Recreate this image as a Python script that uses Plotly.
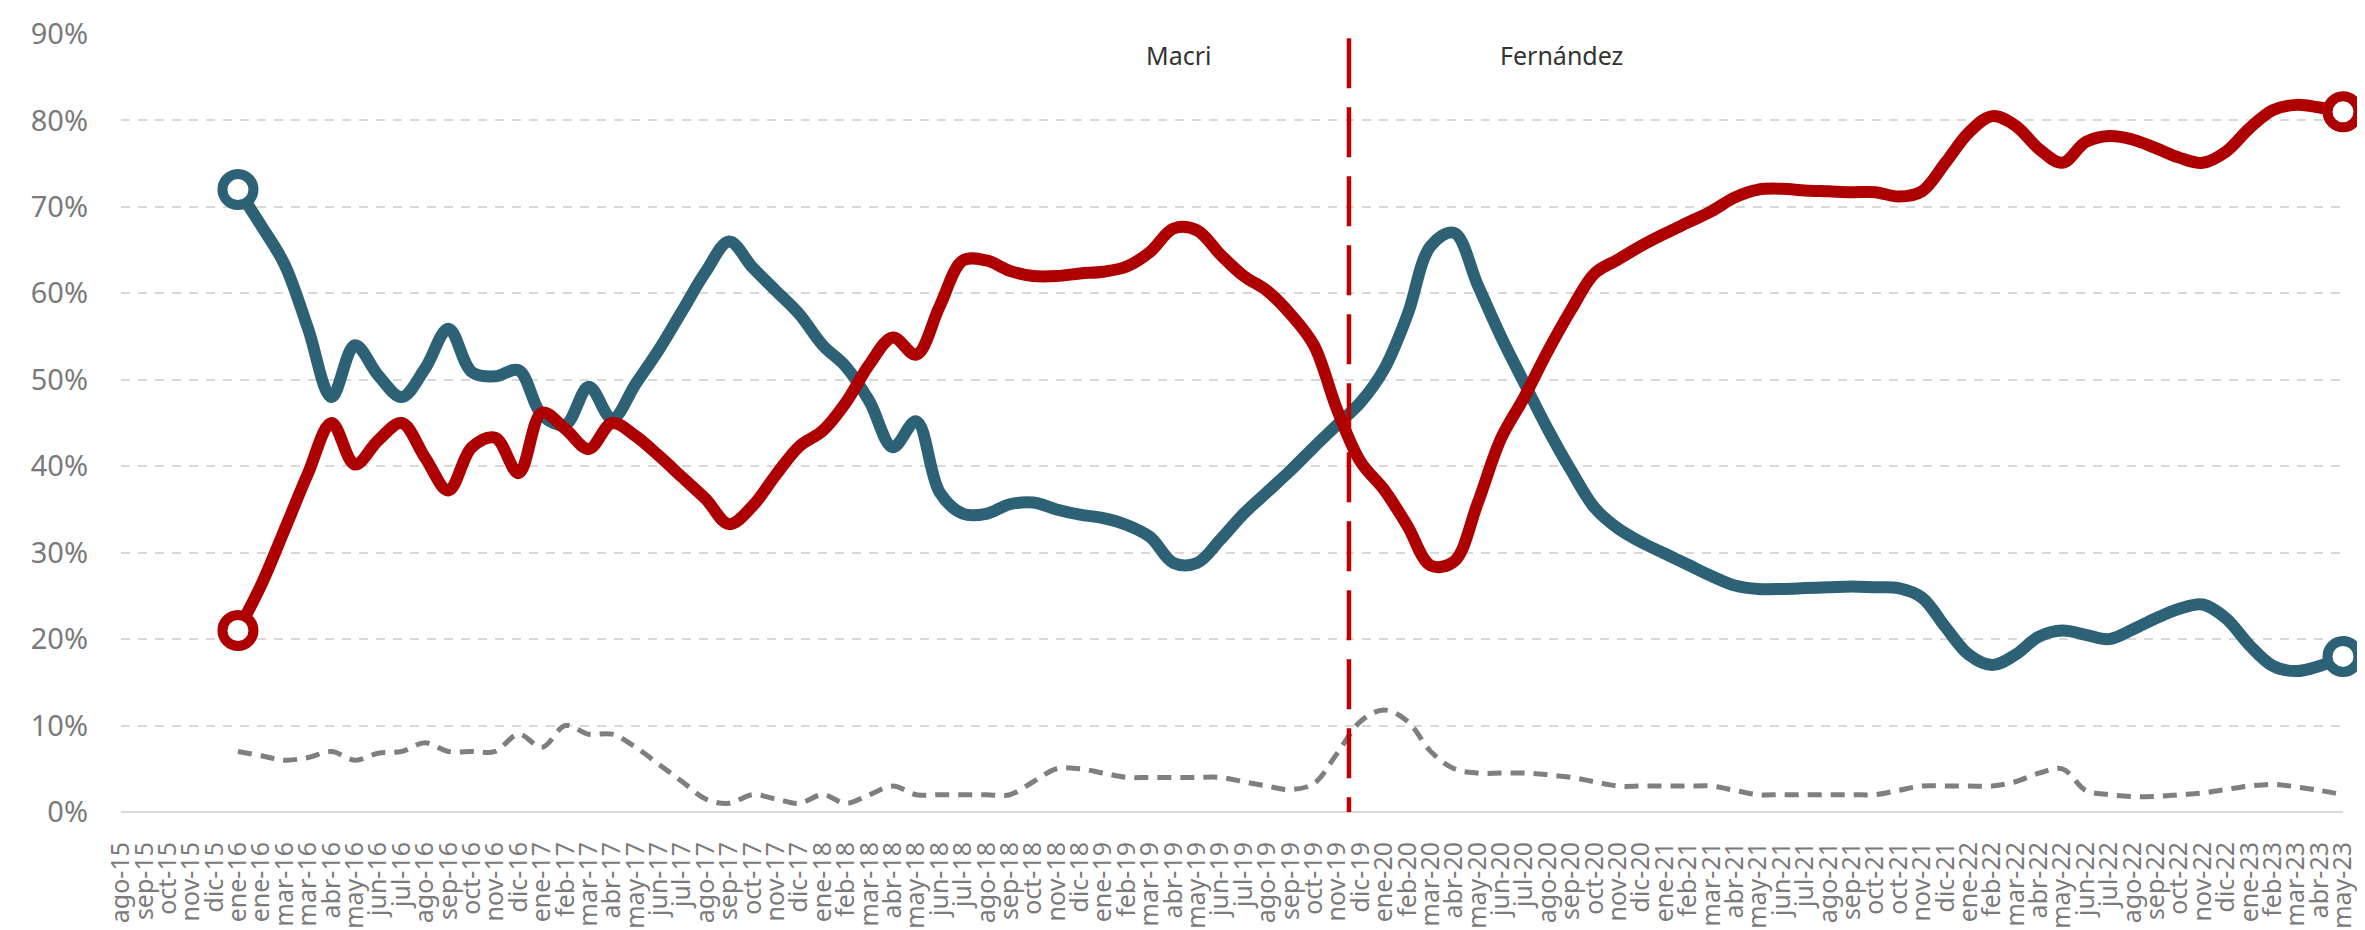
import plotly.graph_objects as go

# categorias (eje x), tal como aparecen en el grafico
meses = ['ago-15', 'sep-15', 'oct-15', 'nov-15', 'dic-15',
         'ene-16', 'ene-16', 'mar-16', 'mar-16', 'abr-16', 'may-16', 'jun-16', 'jul-16',
         'ago-16', 'sep-16', 'oct-16', 'nov-16', 'dic-16',
         'ene-17', 'feb-17', 'mar-17', 'abr-17', 'may-17', 'jun-17', 'jul-17', 'ago-17',
         'sep-17', 'oct-17', 'nov-17', 'dic-17',
         'ene-18', 'feb-18', 'mar-18', 'abr-18', 'may-18', 'jun-18', 'jul-18', 'ago-18',
         'sep-18', 'oct-18', 'nov-18', 'dic-18',
         'ene-19', 'feb-19', 'mar-19', 'abr-19', 'may-19', 'jun-19', 'jul-19', 'ago-19',
         'sep-19', 'oct-19', 'nov-19', 'dic-19',
         'ene-20', 'feb-20', 'mar-20', 'abr-20', 'may-20', 'jun-20', 'jul-20', 'ago-20',
         'sep-20', 'oct-20', 'nov-20', 'dic-20',
         'ene-21', 'feb-21', 'mar-21', 'abr-21', 'may-21', 'jun-21', 'jul-21', 'ago-21',
         'sep-21', 'oct-21', 'oct-21', 'nov-21', 'dic-21',
         'ene-22', 'feb-22', 'mar-22', 'abr-22', 'may-22', 'jun-22', 'jul-22', 'ago-22',
         'sep-22', 'oct-22', 'nov-22', 'dic-22',
         'ene-23', 'feb-23', 'mar-23', 'abr-23', 'may-23']

sin_dato = [None] * 5

azul = sin_dato + [72.0, 67.8, 63.3, 55.9, 48.0, 54.0, 50.5, 48.0, 51.3, 55.9,
                   50.9, 50.4, 51.1, 45.9, 44.8, 49.2, 45.5, 49.5, 53.5, 58.0,
                   62.5, 66.0, 63.0, 60.3, 57.6, 54.0, 51.5, 47.5, 42.2, 45.2,
                   37.0, 34.5, 34.5, 35.6, 35.8, 35.0, 34.4, 34.0, 33.2, 31.8,
                   28.8, 28.8, 31.5, 34.5, 37.0, 39.5, 42.2, 44.8, 47.4, 51.2,
                   57.5, 65.5, 67.0, 61.0, 55.0, 49.6, 44.3, 39.5, 35.2, 32.8,
                   31.2, 29.9, 28.6, 27.3, 26.2, 25.8, 25.8, 25.9, 26.0, 26.1,
                   26.0, 25.9, 24.8, 21.4, 18.2, 17.0, 18.2, 20.3, 21.0, 20.5,
                   20.0, 21.1, 22.4, 23.5, 24.0, 22.4, 19.3, 16.9, 16.3, 16.9,
                   18.0]

rojo = sin_dato + [21.0, 26.3, 32.7, 39.2, 45.0, 40.2, 43.0, 45.0, 41.0, 37.2,
                   42.2, 43.3, 39.2, 46.2, 44.3, 42.0, 45.0, 43.5, 41.2, 38.7,
                   36.2, 33.3, 35.4, 39.0, 42.3, 44.1, 47.4, 51.8, 54.9, 52.9,
                   58.5, 63.8, 63.8, 62.6, 62.0, 62.0, 62.3, 62.5, 63.1, 64.8,
                   67.5, 67.3, 64.5, 62.0, 60.3, 57.6, 54.0, 46.5, 40.5, 37.3,
                   33.1, 28.5, 29.0, 35.7, 43.2, 48.0, 53.3, 58.1, 62.3, 63.9,
                   65.5, 66.9, 68.2, 69.5, 71.1, 72.0, 72.1, 71.9, 71.8, 71.7,
                   71.7, 71.2, 71.8, 75.1, 78.6, 80.5, 79.4, 76.7, 75.1, 77.5,
                   78.2, 77.8, 76.8, 75.7, 75.1, 76.4, 79.1, 81.2, 81.8, 81.5,
                   81.0]

gris = sin_dato + [7.0, 6.5, 6.0, 6.3, 7.0, 6.0, 6.8, 7.0, 8.0, 7.0,
                   7.0, 7.0, 9.0, 7.5, 10.0, 9.0, 9.0, 7.5, 5.5, 3.5,
                   1.5, 1.0, 2.0, 1.5, 1.0, 2.0, 1.0, 2.0, 3.0, 2.0,
                   2.0, 2.0, 2.0, 2.0, 3.5, 5.0, 5.0, 4.5, 4.0, 4.0,
                   4.0, 4.0, 4.0, 3.5, 3.0, 2.6, 3.3, 6.8, 10.5, 11.8,
                   10.5, 7.0, 5.0, 4.5, 4.5, 4.5, 4.3, 4.0, 3.5, 3.0,
                   3.0, 3.0, 3.0, 3.0, 2.5, 2.0, 2.0, 2.0, 2.0, 2.0,
                   2.0, 2.5, 3.0, 3.0, 3.0, 3.0, 3.5, 4.5, 5.0, 2.5,
                   2.0, 1.8, 1.8, 2.0, 2.2, 2.6, 3.0, 3.2, 2.9, 2.5,
                   2.0]

cambio_gobierno = 52.5
etiquetas = [('Macri', 45.2), ('Fernández', 61.6)]

AZUL = '#2D6175'
ROJO = '#AE0000'
GRIS = '#7F7F7F'
x = list(range(len(meses)))

fig = go.Figure()
fig.add_trace(go.Scatter(x=x, y=gris, mode='lines', line=dict(color=GRIS, width=5, dash='14px,9px', shape='spline', smoothing=1.0)))
fig.add_trace(go.Scatter(x=x, y=azul, mode='lines', line=dict(color=AZUL, width=12, shape='spline', smoothing=1.0)))
fig.add_trace(go.Scatter(x=x, y=rojo, mode='lines', line=dict(color=ROJO, width=12, shape='spline', smoothing=1.0)))

# circulos en el primer y ultimo dato
for serie, color in [(azul, AZUL), (rojo, ROJO)]:
    idx = [i for i, v in enumerate(serie) if v is not None]
    ends = [idx[0], idx[-1]]
    fig.add_trace(go.Scatter(x=ends, y=[serie[i] for i in ends], mode='markers', cliponaxis=False,
                             marker=dict(symbol='circle', size=31, color='white', line=dict(color=color, width=10))))

fig.add_shape(type='line', x0=cambio_gobierno, x1=cambio_gobierno, y0=89.5, y1=-0.7,
              line=dict(color='#C00000', width=4.5, dash='50px,19px'))

for texto, pos in etiquetas:
    fig.add_annotation(x=pos, y=87.6, text=texto, showarrow=False,
                       font=dict(family='Noto Sans', size=25, color='#333333'))

fig.update_layout(
    width=2365, height=930,
    margin=dict(l=113, r=30, t=26, b=126),
    paper_bgcolor='white', plot_bgcolor='white',
    showlegend=False,
    font=dict(family='Noto Sans', color='#7A7A7A'),
)
fig.update_xaxes(range=[0, len(meses) - 1], tickvals=x, ticktext=meses, tickangle=-90,
                 tickfont=dict(size=25, color='#7A7A7A'), showgrid=False, zeroline=False,
                 showline=False, ticks='', ticklabelstandoff=24, automargin=False)
fig.update_yaxes(range=[0, 90], dtick=10, ticksuffix='%', tickfont=dict(size=29, color='#7A7A7A'),
                 showgrid=True, gridcolor='#D9D9D9', gridwidth=2, griddash='9px,8px',
                 zeroline=True, zerolinecolor='#D9D9D9', zerolinewidth=2,
                 showline=False, ticks='', ticklabelstandoff=32, automargin=False)

fig.write_html('out.html')
